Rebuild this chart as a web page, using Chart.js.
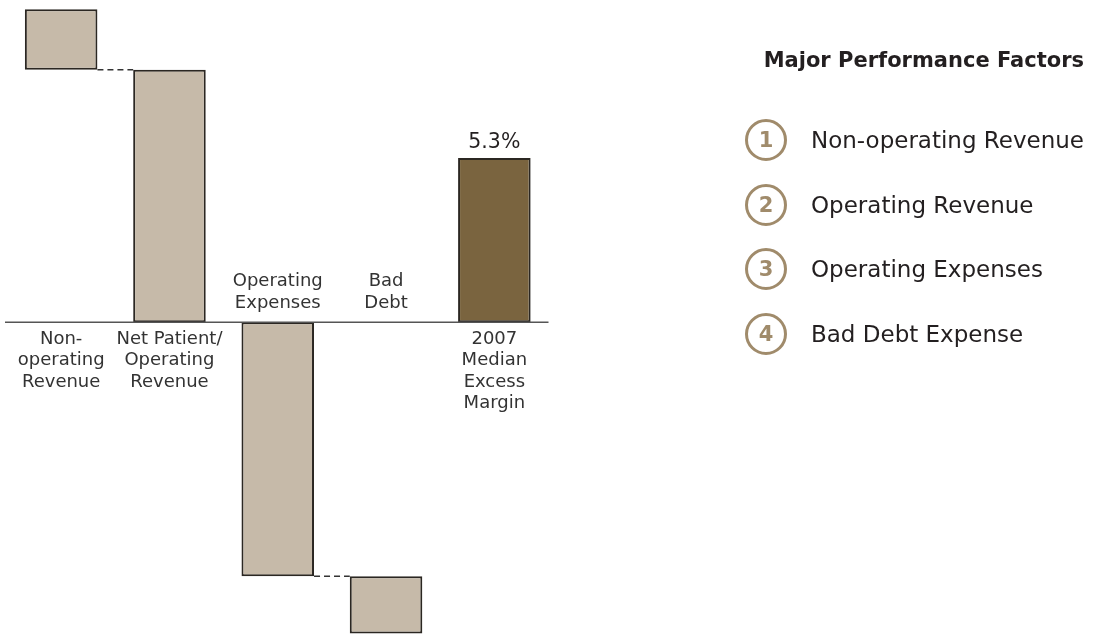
<!DOCTYPE html>
<html>
<head>
<meta charset="utf-8">
<script src="https://cdn.jsdelivr.net/npm/chart.js@4/dist/chart.umd.min.js"></script>
<style>
    html, body { margin: 0; padding: 0; background: #fff; }
    #wrap { position: relative; width: 1096px; height: 635px; overflow: hidden; }
    #chart { position: absolute; left: 0; top: 0; }
    .legend-title {
        position: absolute; right: 12px; top: 48px;
        font: bold 21px "DejaVu Sans", sans-serif; color: #231f20;
        white-space: nowrap;
    }
    .legend-item {
        position: absolute; left: 745px; height: 42px;
        display: flex; align-items: center;
        font: 23px "DejaVu Sans", sans-serif; color: #231f20; white-space: nowrap;
    }
    .legend-item .num {
        width: 36px; height: 36px; border: 3px solid #a08b6b; border-radius: 50%;
        display: flex; align-items: center; justify-content: center;
        font: bold 21px "DejaVu Sans", sans-serif; color: #a08b6b;
        margin-right: 24px; box-sizing: content-box;
    }
</style>
</head>
<body>
<div id="wrap">
    <canvas id="chart" width="1096" height="635"></canvas>
    <div id="legend"></div>
</div>
<script>
// Datos del gráfico (valores en %)
const categorias = [
    ['Non-', 'operating', 'Revenue'],
    ['Net Patient/', 'Operating', 'Revenue'],
    ['Operating', 'Expenses'],
    ['Bad', 'Debt'],
    ['2007', 'Median', 'Excess', 'Margin']
];
const inicio = [8.15, 0, -8.2, -10.05, 0];
const fin = [10.1, 8.15, 0, -8.2, 5.3];
const etiquetaValor = ['', '', '', '', '5.3%'];
const factores = ['Non-operating Revenue', 'Operating Revenue', 'Operating Expenses', 'Bad Debt Expense'];

const colorClaro = '#c6baa9';
const colorOscuro = '#7a643f';

// Leyenda lateral
const legend = document.getElementById('legend');
legend.innerHTML = '<div class="legend-title">Major Performance Factors</div>';
factores.forEach(function(f, i) {
    const item = document.createElement('div');
    item.className = 'legend-item';
    item.style.top = (119 + i * 64.5) + 'px';
    item.innerHTML = '<span class="num">' + (i + 1) + '</span><span>' + f + '</span>';
    legend.appendChild(item);
});

// Plugin: línea base, conectores, etiquetas de categoría y de valor
const waterfallPlugin = {
    id: 'waterfall',
    afterDatasetsDraw(chart) {
        const ctx = chart.ctx;
        const x = chart.scales.x;
        const y = chart.scales.y;
        const meta = chart.getDatasetMeta(0);
        const y0 = y.getPixelForValue(0);

        ctx.save();
        // Conectores punteados
        ctx.strokeStyle = '#333';
        ctx.lineWidth = 1.5;
        ctx.setLineDash([6, 4]);
        for (let i = 0; i < meta.data.length - 1; i++) {
            const a = [inicio[i], fin[i]];
            const b = [inicio[i + 1], fin[i + 1]];
            const comun = a.find(v => v !== 0 && b.includes(v));
            if (comun === undefined) continue;
            const py = y.getPixelForValue(comun);
            const ea = meta.data[i], eb = meta.data[i + 1];
            ctx.beginPath();
            ctx.moveTo(ea.x + ea.width / 2, py);
            ctx.lineTo(eb.x - eb.width / 2, py);
            ctx.stroke();
        }
        ctx.setLineDash([]);

        // Línea base
        ctx.strokeStyle = '#555';
        ctx.lineWidth = 1.5;
        ctx.beginPath();
        ctx.moveTo(chart.chartArea.left - 2, y0);
        ctx.lineTo(chart.chartArea.right, y0);
        ctx.stroke();

        // Etiquetas de categoría
        ctx.fillStyle = '#333';
        ctx.font = '18px "DejaVu Sans", sans-serif';
        ctx.textAlign = 'center';
        ctx.textBaseline = 'middle';
        const lh = 21.5;
        categorias.forEach(function(lineas, i) {
            const cx = x.getPixelForValue(i);
            const negativo = Math.max(inicio[i], fin[i]) <= 0;
            lineas.forEach(function(t, j) {
                let py;
                if (negativo) {
                    py = y0 - 19 - (lineas.length - 1 - j) * lh;
                } else {
                    py = y0 + 17 + j * lh;
                }
                ctx.fillText(t, cx, py);
            });
        });

        // Etiquetas de valor
        ctx.fillStyle = '#231f20';
        ctx.font = '20.5px "DejaVu Sans", sans-serif';
        ctx.textBaseline = 'bottom';
        etiquetaValor.forEach(function(t, i) {
            if (!t) return;
            const el = meta.data[i];
            ctx.fillText(t, el.x, Math.min(el.y, el.base) - 5);
        });
        ctx.restore();
    }
};

const ctx = document.getElementById('chart').getContext('2d');
new Chart(ctx, {
    type: 'bar',
    data: {
        labels: categorias.map(c => c.join(' ')),
        datasets: [{
            data: inicio.map((v, i) => [v, fin[i]]),
            backgroundColor: inicio.map((v, i) => i === inicio.length - 1 ? colorOscuro : colorClaro),
            borderColor: '#2b2722',
            borderWidth: 2,
            borderSkipped: false,
            categoryPercentage: 1,
            barPercentage: 0.67
        }]
    },
    options: {
        responsive: false,
        animation: false,
        layout: { padding: { left: 7, right: 547.5, top: 0, bottom: 0 } },
        plugins: { legend: { display: false }, tooltip: { enabled: false } },
        scales: {
            x: { display: false, offset: true, grid: { display: false } },
            y: { display: false, min: -10.1, max: 10.4 }
        }
    },
    plugins: [waterfallPlugin]
});
</script>
</body>
</html>
